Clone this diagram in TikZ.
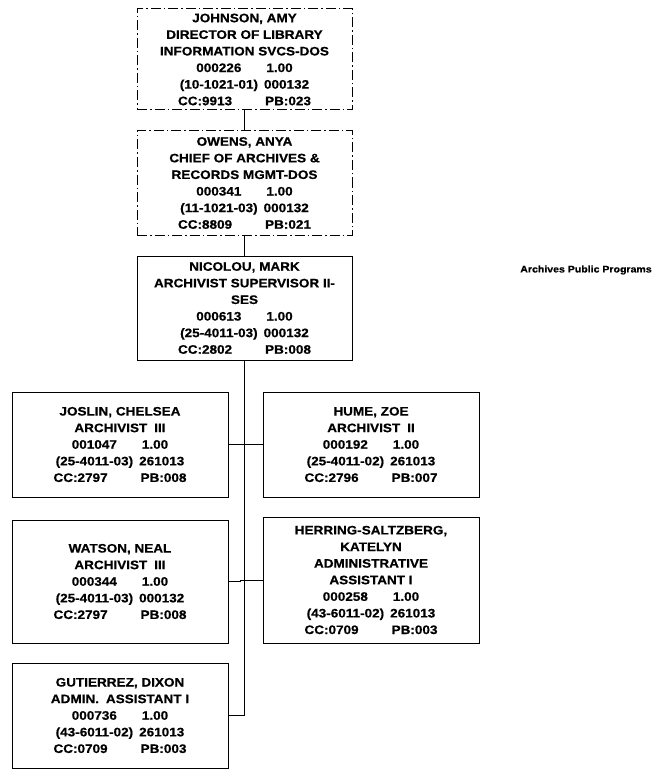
\documentclass[tikz,border=0pt]{standalone}
\usepackage{fontspec}
\setmainfont{Liberation Sans}[FakeStretch=1.1, BoldFeatures={FakeBold=0.6}]
\newcommand{\gp}[1]{\hspace{#1pt}}
\tikzset{
  person/.style={draw=black, line width=1pt, minimum width=216pt, inner sep=0pt, align=center,
    font=\bfseries\fontsize{12.3}{16.6}\selectfont},
  upper/.style={person, dash pattern=on 10pt off 3pt on 1.5pt off 3pt, minimum width=215pt},
  link/.style={draw=black, line width=1pt},
  unitlabel/.style={font=\bfseries\fontsize{9.6}{11}\selectfont, inner sep=0pt}
}
\begin{document}
\begin{tikzpicture}[x=1pt,y=-1pt]
\useasboundingbox (0,0) rectangle (652,770);
\node[upper, minimum height=101pt] (john) at (244.5,59.5)
 {JOHNSON, AMY\\DIRECTOR OF LIBRARY\\INFORMATION SVCS-DOS\\000226\gp{25}1.00\\(10-1021-01)\gp{6}000132\\CC:9913\gp{33}PB:023};
\node[upper, minimum height=104pt] (owens) at (244.5,183)
 {OWENS, ANYA\\CHIEF OF ARCHIVES \&\\RECORDS MGMT-DOS\\000341\gp{25}1.00\\(11-1021-03)\gp{6}000132\\CC:8809\gp{33}PB:021};
\node[person, minimum width=215pt, minimum height=104pt] (nic) at (244.5,308)
 {NICOLOU, MARK\\ARCHIVIST SUPERVISOR II-\\SES\\000613\gp{25}1.00\\(25-4011-03)\gp{6}000132\\CC:2802\gp{33}PB:008};
\node[person, minimum height=105pt] (joslin) at (120,444.5)
 {JOSLIN, CHELSEA\\ARCHIVIST\gp{7}III\\001047\gp{25}1.00\\(25-4011-03)\gp{6}261013\\CC:2797\gp{33}PB:008};
\node[person, minimum height=105pt] (hume) at (371,444.5)
 {HUME, ZOE\\ARCHIVIST\gp{7}II\\000192\gp{25}1.00\\(25-4011-02)\gp{6}261013\\CC:2796\gp{33}PB:007};
\node[person, minimum height=123pt] (watson) at (120,581.5)
 {WATSON, NEAL\\ARCHIVIST\gp{7}III\\000344\gp{25}1.00\\(25-4011-03)\gp{6}000132\\CC:2797\gp{33}PB:008};
\node[person, minimum height=126pt] (herring) at (371,580)
 {HERRING-SALTZBERG,\\KATELYN\\ADMINISTRATIVE\\ASSISTANT I\\000258\gp{25}1.00\\(43-6011-02)\gp{6}261013\\CC:0709\gp{33}PB:003};
\node[person, minimum height=105pt] (gut) at (120,715.5)
 {GUTIERREZ, DIXON\\ADMIN.\gp{7}ASSISTANT I\\000736\gp{25}1.00\\(43-6011-02)\gp{6}261013\\CC:0709\gp{33}PB:003};
\node[unitlabel] (unit) at (586,270) {Archives Public Programs};
\draw[link] (john.south) -- (owens.north);
\draw[link] (owens.south) -- (nic.north);
\draw[link] (nic.south) |- (gut.east);
\draw[link] (joslin.east) -- (hume.west);
\draw[link] (watson.east) -- ++(12,0) |- (herring.west);
\end{tikzpicture}
\end{document}
